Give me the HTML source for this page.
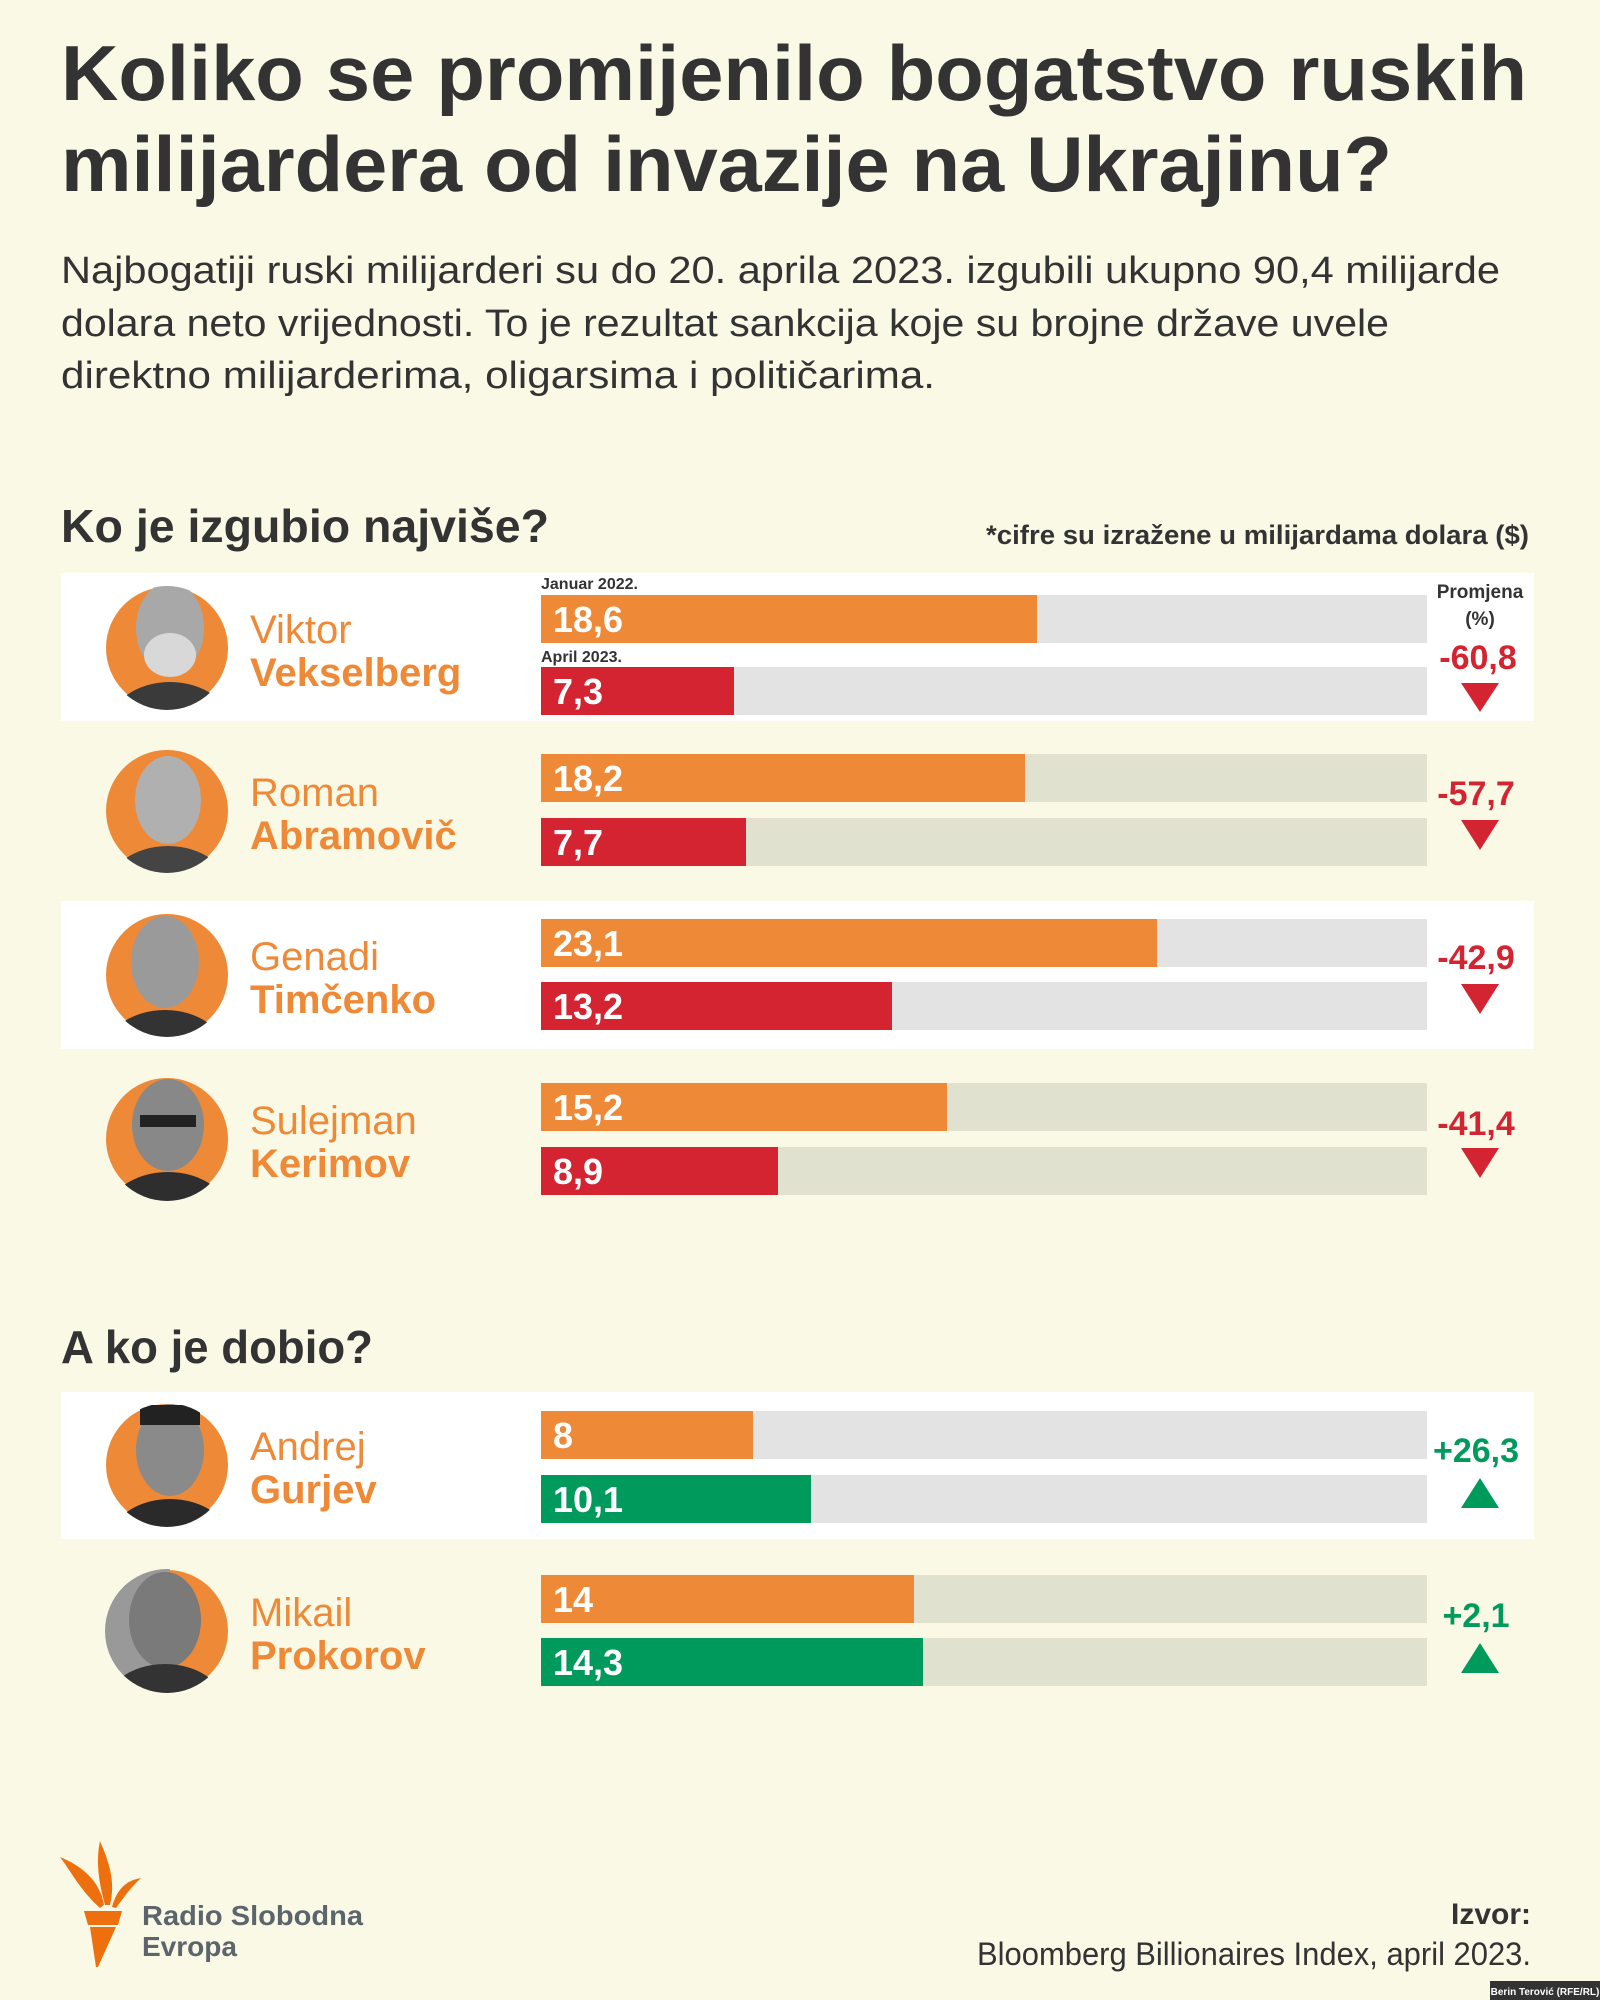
<!DOCTYPE html>
<html><head><meta charset="utf-8"><style>
html,body{margin:0;padding:0;background:#faf9e6;}
svg{display:block;}
text{font-family:"Liberation Sans","DejaVu Sans",sans-serif;}
</style></head><body>
<svg width="1600" height="2000" viewBox="0 0 1600 2000" xmlns="http://www.w3.org/2000/svg">
<rect width="1600" height="2000" fill="#faf9e6"/>
<defs>
<clipPath id="c1"><circle cx="167" cy="648" r="62"/></clipPath>
<clipPath id="c2"><circle cx="167" cy="811" r="62"/></clipPath>
<clipPath id="c3"><circle cx="167" cy="975" r="62"/></clipPath>
<clipPath id="c4"><circle cx="167" cy="1139" r="62"/></clipPath>
<clipPath id="c5"><circle cx="167" cy="1465" r="62"/></clipPath>
<clipPath id="c6"><circle cx="167" cy="1631" r="62"/></clipPath>
</defs>
<g fill="#333">
<text x="61" y="100" font-size="78" font-weight="bold" textLength="1466" lengthAdjust="spacingAndGlyphs">Koliko se promijenilo bogatstvo ruskih</text>
<text x="61" y="191" font-size="78" font-weight="bold" textLength="1331" lengthAdjust="spacingAndGlyphs">milijardera od invazije na Ukrajinu?</text>
</g>
<g fill="#333" font-size="38">
<text x="61" y="283" textLength="1439" lengthAdjust="spacingAndGlyphs">Najbogatiji ruski milijarderi su do 20. aprila 2023. izgubili ukupno 90,4 milijarde</text>
<text x="61" y="336" textLength="1328" lengthAdjust="spacingAndGlyphs">dolara neto vrijednosti. To je rezultat sankcija koje su brojne države uvele</text>
<text x="61" y="388" textLength="874" lengthAdjust="spacingAndGlyphs">direktno milijarderima, oligarsima i političarima.</text>
</g>
<text x="61" y="542" font-size="46" font-weight="bold" fill="#333" textLength="488" lengthAdjust="spacingAndGlyphs">Ko je izgubio najviše?</text>
<text x="986" y="544" font-size="27" font-weight="bold" fill="#333" textLength="543" lengthAdjust="spacingAndGlyphs">*cifre su izražene u milijardama dolara ($)</text>
<text x="61" y="1363" font-size="46" font-weight="bold" fill="#333" textLength="312" lengthAdjust="spacingAndGlyphs">A ko je dobio?</text>

<!-- white panels -->
<rect x="61" y="573" width="1473" height="148" fill="#fff"/>
<rect x="61" y="901" width="1473" height="148" fill="#fff"/>
<rect x="61" y="1392" width="1473" height="147" fill="#fff"/>

<!-- tracks -->
<g>
<rect x="541" y="595" width="886" height="48" fill="#e3e3e3"/>
<rect x="541" y="667" width="886" height="48" fill="#e3e3e3"/>
<rect x="541" y="754" width="886" height="48" fill="#e1e1d0"/>
<rect x="541" y="818" width="886" height="48" fill="#e1e1d0"/>
<rect x="541" y="919" width="886" height="48" fill="#e3e3e3"/>
<rect x="541" y="982" width="886" height="48" fill="#e3e3e3"/>
<rect x="541" y="1083" width="886" height="48" fill="#e1e1d0"/>
<rect x="541" y="1147" width="886" height="48" fill="#e1e1d0"/>
<rect x="541" y="1411" width="886" height="48" fill="#e3e3e3"/>
<rect x="541" y="1475" width="886" height="48" fill="#e3e3e3"/>
<rect x="541" y="1575" width="886" height="48" fill="#e1e1d0"/>
<rect x="541" y="1638" width="886" height="48" fill="#e1e1d0"/>
</g>
<!-- bars -->
<g>
<rect x="541" y="595" width="496" height="48" fill="#ee8a37"/>
<rect x="541" y="667" width="193" height="48" fill="#d42432"/>
<rect x="541" y="754" width="484" height="48" fill="#ee8a37"/>
<rect x="541" y="818" width="205" height="48" fill="#d42432"/>
<rect x="541" y="919" width="616" height="48" fill="#ee8a37"/>
<rect x="541" y="982" width="351" height="48" fill="#d42432"/>
<rect x="541" y="1083" width="406" height="48" fill="#ee8a37"/>
<rect x="541" y="1147" width="237" height="48" fill="#d42432"/>
<rect x="541" y="1411" width="212" height="48" fill="#ee8a37"/>
<rect x="541" y="1475" width="270" height="48" fill="#009a5c"/>
<rect x="541" y="1575" width="373" height="48" fill="#ee8a37"/>
<rect x="541" y="1638" width="382" height="48" fill="#009a5c"/>
</g>
<g fill="#fff" font-size="36" font-weight="bold">
<text x="553" y="632">18,6</text><text x="553" y="704">7,3</text>
<text x="553" y="791">18,2</text><text x="553" y="855">7,7</text>
<text x="553" y="956">23,1</text><text x="553" y="1019">13,2</text>
<text x="553" y="1120">15,2</text><text x="553" y="1184">8,9</text>
<text x="553" y="1448">8</text><text x="553" y="1512">10,1</text>
<text x="553" y="1612">14</text><text x="553" y="1675">14,3</text>
</g>
<g fill="#333" font-size="16" font-weight="bold">
<text x="541" y="589">Januar 2022.</text>
<text x="541" y="662">April 2023.</text>
</g>
<g fill="#333" font-size="19" font-weight="bold" text-anchor="middle">
<text x="1480" y="598">Promjena</text><text x="1480" y="625">(%)</text>
</g>
<!-- percentages -->
<g font-size="34" font-weight="bold" text-anchor="middle">
<text x="1478" y="669" fill="#d42432">-60,8</text>
<text x="1476" y="805" fill="#d42432">-57,7</text>
<text x="1476" y="969" fill="#d42432">-42,9</text>
<text x="1476" y="1135" fill="#d42432">-41,4</text>
<text x="1476" y="1462" fill="#009a5c">+26,3</text>
<text x="1476" y="1627" fill="#009a5c">+2,1</text>
</g>
<g>
<polygon points="1461,683 1499,683 1480,712" fill="#d42432"/>
<polygon points="1461,820 1499,820 1480,850" fill="#d42432"/>
<polygon points="1461,984 1499,984 1480,1014" fill="#d42432"/>
<polygon points="1461,1148 1499,1148 1480,1178" fill="#d42432"/>
<polygon points="1461,1508 1499,1508 1480,1478" fill="#009a5c"/>
<polygon points="1461,1673 1499,1673 1480,1643" fill="#009a5c"/>
</g>
<!-- names -->
<g fill="#ee8a37" font-size="40">
<text x="250" y="643">Viktor</text>
<text x="250" y="806">Roman</text>
<text x="250" y="970">Genadi</text>
<text x="250" y="1134">Sulejman</text>
<text x="250" y="1460">Andrej</text>
<text x="250" y="1626">Mikail</text>
</g>
<g fill="#ee8a37" font-size="40" font-weight="bold">
<text x="250" y="686">Vekselberg</text>
<text x="250" y="849">Abramovič</text>
<text x="250" y="1013">Timčenko</text>
<text x="250" y="1177">Kerimov</text>
<text x="250" y="1503">Gurjev</text>
<text x="250" y="1669">Prokorov</text>
</g>
<!-- photos -->
<g>
<circle cx="167" cy="648" r="61" fill="#ee8a37"/>
<g clip-path="url(#c1)"><ellipse cx="170" cy="628" rx="34" ry="46" fill="#a8a8a8"/><ellipse cx="170" cy="728" rx="62" ry="46" fill="#3a3a3a"/><ellipse cx="170" cy="655" rx="26" ry="22" fill="#d8d8d8"/></g>
<circle cx="167" cy="811" r="61" fill="#ee8a37"/>
<g clip-path="url(#c2)"><ellipse cx="168" cy="800" rx="33" ry="44" fill="#b0b0b0"/><ellipse cx="168" cy="892" rx="62" ry="46" fill="#444"/></g>
<circle cx="167" cy="975" r="61" fill="#ee8a37"/>
<g clip-path="url(#c3)"><ellipse cx="165" cy="962" rx="34" ry="46" fill="#9a9a9a"/><ellipse cx="165" cy="1056" rx="62" ry="46" fill="#333"/></g>
<circle cx="167" cy="1139" r="61" fill="#ee8a37"/>
<g clip-path="url(#c4)"><ellipse cx="168" cy="1125" rx="36" ry="46" fill="#888"/><ellipse cx="168" cy="1220" rx="64" ry="48" fill="#2e2e2e"/><rect x="140" y="1115" width="56" height="12" fill="#222"/></g>
<circle cx="167" cy="1465" r="61" fill="#ee8a37"/>
<g clip-path="url(#c5)"><ellipse cx="170" cy="1450" rx="34" ry="46" fill="#8a8a8a"/><ellipse cx="170" cy="1545" rx="62" ry="46" fill="#2a2a2a"/><rect x="140" y="1405" width="60" height="20" fill="#222"/></g>
<circle cx="167" cy="1631" r="61" fill="#ee8a37"/>
<g clip-path="url(#c6)"><rect x="100" y="1560" width="70" height="140" fill="#999"/><ellipse cx="165" cy="1620" rx="36" ry="48" fill="#7a7a7a"/><ellipse cx="165" cy="1710" rx="62" ry="46" fill="#333"/></g>
</g>
<!-- logo -->
<g fill="#ee6f0e">
<polygon points="84,1911 122,1911 118,1925 88,1925"/>
<polygon points="90,1927 116,1927 98,1967 96,1967"/>
<path d="M100,1908 C80,1890 70,1870 60,1857 C80,1865 100,1880 104,1905 Z"/>
<path d="M105,1905 C98,1880 96,1860 100,1841 C108,1860 116,1880 110,1905 Z"/>
<path d="M112,1907 C118,1885 130,1880 141,1878 C130,1888 122,1900 116,1908 Z"/>
</g>
<g fill="#5d656c" font-size="28" font-weight="bold">
<text x="142" y="1925" textLength="221" lengthAdjust="spacingAndGlyphs">Radio Slobodna</text>
<text x="142" y="1956">Evropa</text>
</g>
<text x="1531" y="1924" font-size="30" font-weight="bold" fill="#333" text-anchor="end">Izvor:</text>
<text x="1531" y="1965" font-size="32" fill="#333" text-anchor="end" textLength="554" lengthAdjust="spacingAndGlyphs">Bloomberg Billionaires Index, april 2023.</text>
<rect x="1490" y="1981" width="110" height="19" fill="#333"/>
<text x="1545" y="1995" font-size="10" font-weight="bold" fill="#fff" text-anchor="middle">Berin Terović (RFE/RL)</text>
</svg>
</body></html>
